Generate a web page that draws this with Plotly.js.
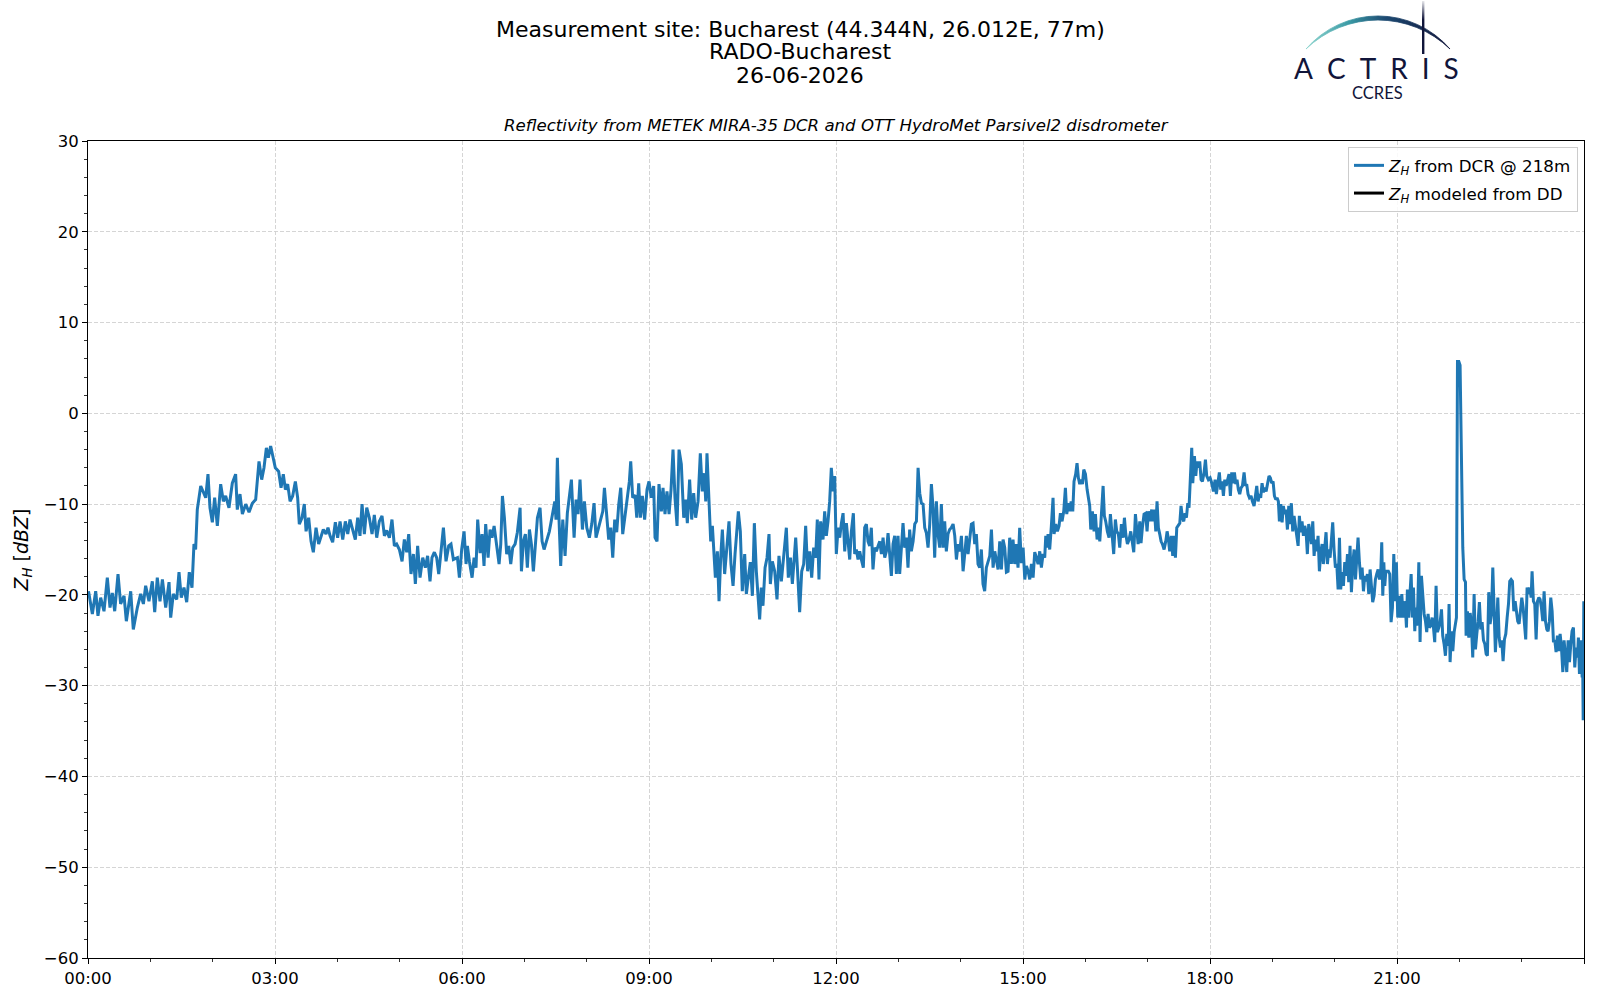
<!DOCTYPE html>
<html>
<head>
<meta charset="utf-8">
<script src="https://cdn.plot.ly/plotly-3.0.1.min.js"></script>
<style>html,body{margin:0;padding:0;background:#fff}#chart{width:1600px;height:1000px}</style>
</head>
<body>
<div id="chart"></div>
<script>
// ---- DATA: [minutes since 00:00, Z_H in dBZ] ----
const seg1 = [[0.5,-19.6],[4.2,-22.1],[7.4,-19.6],[9.6,-22.3],[12.2,-20.3],[15.4,-21.8],[18.6,-18.1],[21.2,-21.4],[23.4,-19.8],[25.7,-21.8],[28.9,-17.7],[31.4,-21.0],[34.7,-20.1],[36.9,-22.9],[41.1,-19.6],[43.6,-23.8],[47.5,-21.4],[50.7,-19.9],[53.3,-21.0],[55.5,-19.0],[58.7,-20.7],[61.9,-18.5],[64.2,-21.9],[66.7,-18.1],[69.3,-20.7],[71.6,-18.3],[74.8,-21.4],[78.0,-18.6],[79.6,-22.5],[82.1,-19.9],[85.4,-20.5],[87.6,-17.5],[89.8,-20.3],[92.4,-19.2],[95.0,-20.8],[97.5,-17.5],[100.1,-19.2],[102.0,-14.4],[103.6,-15.0],[105.2,-10.6],[108.5,-8.0],[111.0,-8.6],[113.3,-9.3],[115.5,-6.7],[117.4,-10.4],[119.7,-12.0],[121.9,-9.3],[124.5,-12.4],[127.7,-7.8],[130.3,-9.7],[132.5,-9.1],[135.7,-10.4],[138.9,-7.7],[142.1,-6.7],[143.7,-10.6],[146.3,-8.9],[148.6,-11.1],[151.8,-10.0],[155.0,-10.9],[158.2,-9.9],[161.4,-9.5],[164.6,-5.3],[167.2,-7.3],[169.4,-6.0],[171.7,-3.8],[173.6,-4.9],[175.8,-3.6]];
const seg2 = [[180.3,-6.0],[183.5,-6.4],[185.8,-8.2],[188.0,-6.7],[190.0,-8.4],[192.2,-7.8],[194.5,-9.7],[197.0,-9.1],[199.6,-7.5],[201.8,-9.3],[203.4,-12.2],[206.0,-11.5],[208.2,-10.0],[209.9,-13.0],[212.4,-11.5],[214.7,-14.1],[216.9,-15.3],[219.5,-12.6],[222.0,-14.4],[224.3,-13.5],[226.5,-12.8],[229.1,-13.3],[231.0,-12.6],[233.0,-13.5],[235.5,-14.2],[238.1,-12.0],[240.3,-13.7],[242.6,-11.9],[245.2,-13.9],[247.7,-11.9],[250.0,-13.3],[252.2,-11.7],[254.8,-12.8],[257.3,-13.9],[259.6,-11.5],[261.8,-13.5],[263.8,-10.0],[266.0,-13.3],[268.3,-10.4],[270.8,-11.5],[273.4,-13.3],[275.6,-11.2],[277.9,-13.7],[280.4,-11.9],[283.0,-11.3],[285.3,-13.5],[287.5,-12.9],[290.1,-13.7],[292.6,-11.7],[294.9,-14.6],[297.1,-14.4],[299.7,-15.0],[302.3,-16.3],[304.5,-13.9],[306.8,-15.3],[308.7,-13.3],[310.9,-17.7],[313.2,-15.5],[315.1,-18.8],[317.3,-14.6],[319.6,-18.1],[322.2,-15.9],[324.7,-17.0],[326.9,-15.7],[329.2,-18.5],[331.1,-15.9],[333.4,-15.3],[335.6,-15.9],[337.6,-17.7],[339.8,-15.2],[342.1,-12.6],[344.6,-16.3],[347.2,-14.6],[349.4,-14.4],[351.7,-16.1]];
const seg3 = [[355.6,-15.9],[357.5,-18.1],[359.7,-15.0],[362.0,-13.0],[363.9,-16.6],[365.2,-14.6],[367.1,-16.3],[369.7,-18.1],[371.6,-15.9],[373.5,-17.0],[375.1,-11.7],[377.4,-15.4],[379.3,-13.3],[381.2,-16.8],[382.8,-12.2],[385.1,-15.9],[387.0,-12.8],[388.9,-13.7],[390.9,-12.4],[393.4,-14.6],[395.7,-16.6],[397.3,-14.4],[398.9,-9.1],[400.8,-11.5],[403.0,-15.5],[405.0,-14.6],[406.9,-16.6],[408.8,-14.8],[411.1,-14.4],[413.3,-13.1],[415.9,-10.4],[417.2,-17.4],[419.1,-14.1],[421.0,-13.3],[422.9,-17.0],[424.9,-12.8],[426.8,-14.4],[428.7,-17.4],[430.6,-13.9],[432.6,-11.5],[435.1,-10.4],[437.1,-14.1],[439.0,-15.0],[441.6,-14.1],[444.1,-13.0],[445.4,-12.2],[447.3,-11.0],[449.3,-9.7],[450.5,-11.7],[451.8,-4.9],[453.1,-10.8],[455.0,-16.8],[457.0,-11.7],[459.2,-15.7],[461.4,-11.0],[463.4,-8.8],[465.3,-7.3],[467.9,-13.7],[469.8,-9.5],[471.7,-11.1],[473.6,-7.3],[475.9,-12.8],[477.8,-9.7],[480.1,-12.6],[482.6,-13.7],[484.9,-12.2],[487.1,-9.9],[489.0,-13.7],[491.3,-12.6],[493.5,-11.9],[495.5,-10.8],[497.1,-8.2],[499.3,-11.3],[501.2,-13.9],[503.2,-12.6],[505.1,-15.9],[507.0,-11.7],[508.9,-13.1],[510.9,-10.0],[512.8,-8.2],[514.7,-13.3],[517.0,-11.3],[519.2,-9.7],[521.1,-7.5],[522.4,-5.3],[524.3,-9.3],[526.6,-9.0],[528.2,-11.5],[530.1,-7.7]];
const seg4 = [[531.7,-11.5],[533.6,-9.1],[535.8,-11.7],[538.1,-8.4],[540.0,-7.5],[542.2,-9.3],[544.5,-8.0],[545.8,-13.7],[547.7,-14.1],[549.6,-7.8],[551.9,-10.8],[553.5,-8.2],[555.4,-11.1],[557.3,-8.6],[559.3,-11.1],[561.2,-8.4],[563.1,-4.0],[565.0,-9.3],[567.0,-12.4],[568.9,-4.0],[571.1,-5.6],[573.4,-11.5],[575.3,-9.5],[576.9,-12.1],[579.1,-7.3],[581.1,-11.7],[583.0,-8.8],[584.9,-11.5],[587.2,-9.7],[589.4,-4.4],[591.3,-8.6],[593.3,-6.6],[594.6,-9.7],[595.8,-4.4],[597.8,-11.1],[599.4,-14.1],[601.0,-12.4],[602.6,-15.4],[603.9,-18.1],[605.8,-15.2],[607.4,-20.7],[609.0,-15.9],[610.6,-12.8],[612.8,-17.7],[615.1,-14.8],[617.0,-11.9],[618.9,-16.6],[620.9,-19.0],[622.8,-15.5],[624.7,-12.8],[626.0,-10.8],[627.9,-13.0],[629.8,-19.6],[632.1,-15.5],[633.7,-19.9],[635.6,-18.1],[637.5,-16.4],[639.5,-20.1],[641.4,-12.1],[643.3,-17.4],[644.9,-20.3],[646.5,-22.7],[648.1,-19.2],[649.7,-21.2],[651.7,-17.0],[653.6,-15.9],[655.5,-13.3],[656.8,-18.8],[658.7,-16.3],[661.0,-17.4],[663.2,-20.5],[665.1,-15.7],[667.4,-18.5],[669.6,-15.7],[672.2,-12.6],[674.1,-18.1],[676.1,-15.9],[678.0,-18.8],[679.9,-16.3],[681.2,-13.7],[683.1,-17.6],[685.0,-21.9],[687.0,-17.4],[688.9,-16.6],[690.8,-12.4],[692.7,-17.4],[694.7,-15.2],[696.6,-18.1],[698.5,-14.8],[700.4,-15.9],[702.0,-11.7],[703.6,-18.3],[705.2,-11.9],[706.9,-13.7]];
const seg5 = [[707.5,-13.9],[709.1,-10.8],[710.7,-13.5],[712.3,-11.9],[713.9,-9.7],[715.5,-6.0],[717.1,-8.6],[718.7,-6.9],[720.3,-15.5],[722.0,-12.6],[723.6,-13.7],[725.2,-12.1],[726.8,-11.0],[728.4,-15.2],[730.0,-12.1],[731.6,-14.1],[733.2,-16.1],[734.8,-13.0],[736.7,-11.0],[738.0,-15.5],[739.6,-15.0],[741.2,-16.1],[742.8,-15.2],[744.4,-16.1],[746.3,-17.0],[747.6,-12.6],[749.2,-12.2],[750.8,-14.1],[752.4,-14.6],[754.0,-12.6],[755.6,-17.2],[757.2,-14.8],[758.9,-15.2],[760.5,-14.6],[762.1,-14.1],[763.7,-15.5],[765.3,-13.7],[766.9,-15.9],[768.5,-15.2],[770.1,-13.2],[771.7,-15.5],[773.3,-17.9],[774.9,-14.4],[776.5,-13.5],[778.1,-17.7],[779.7,-13.5],[781.3,-17.7],[782.9,-14.8],[784.5,-12.1],[786.1,-14.8],[787.7,-13.7],[789.3,-17.0],[790.9,-12.8],[792.5,-15.2],[794.2,-14.1],[795.8,-12.2],[797.4,-11.9],[799.0,-6.0],[800.6,-8.8],[802.2,-9.9],[803.8,-10.0],[805.4,-12.6],[807.0,-13.2],[808.6,-14.8],[810.2,-12.2],[811.8,-7.8],[813.4,-10.4],[815.0,-15.9],[816.6,-9.7],[818.2,-13.3],[819.8,-14.8],[821.4,-10.0],[823.0,-14.8],[824.6,-11.9],[826.2,-15.2],[827.8,-13.3],[829.4,-12.8],[831.0,-12.6],[832.7,-12.2],[834.3,-13.5],[835.9,-16.1],[837.5,-14.4],[839.1,-15.2],[840.7,-13.5],[842.3,-17.4],[843.9,-15.5],[845.5,-13.5],[847.1,-15.5],[848.7,-14.1],[850.3,-12.2],[851.9,-12.1],[853.5,-14.4],[855.1,-13.3],[856.7,-16.6],[858.3,-17.0],[859.9,-15.0],[861.5,-18.8],[863.1,-19.6],[864.7,-17.0],[866.3,-16.3],[868.0,-15.7],[869.6,-12.8],[871.2,-17.0],[872.8,-15.2],[874.4,-16.3],[876.0,-17.2],[877.6,-14.1],[879.2,-17.2],[880.8,-13.9],[882.4,-14.8],[884.0,-17.5]];
const seg6 = [[885.6,-17.4],[887.2,-13.7],[888.8,-16.6],[890.4,-13.9],[892.0,-16.6],[893.6,-14.4],[895.2,-17.0],[896.8,-12.6],[898.4,-16.5],[900.1,-14.8],[901.7,-18.3],[903.3,-16.8],[904.9,-17.4],[906.5,-18.3],[908.1,-16.6],[909.7,-18.1],[911.3,-15.3],[912.9,-15.9],[914.5,-16.6],[916.1,-15.2],[917.7,-17.0],[919.3,-15.5],[920.9,-15.9],[921.9,-13.5],[923.2,-14.8],[924.1,-13.3],[925.7,-15.0],[927.3,-12.4],[928.9,-9.3],[929.9,-13.3],[931.5,-12.2],[933.1,-13.0],[934.7,-12.4],[936.0,-11.0],[937.6,-11.9],[939.2,-10.8],[940.8,-8.2],[942.1,-11.1],[943.7,-9.9],[945.0,-10.8],[946.3,-9.7],[947.9,-10.8],[949.1,-7.5],[950.7,-6.7],[952.0,-5.5],[953.3,-7.1],[954.6,-7.8],[955.9,-7.3],[957.2,-7.8],[958.5,-6.2],[960.1,-6.7],[961.7,-8.4],[963.0,-9.7],[964.2,-10.2],[965.2,-12.8],[966.8,-10.8],[968.4,-13.0],[969.7,-11.1],[971.3,-13.9],[972.6,-12.6],[973.9,-14.1],[975.5,-10.8],[977.1,-8.0],[978.3,-11.3],[979.6,-11.9],[981.2,-13.0],[982.8,-13.7],[984.1,-11.1],[985.7,-13.0],[987.3,-15.5],[988.9,-11.7],[990.2,-13.0],[991.8,-13.3],[993.1,-14.8],[994.7,-12.2],[996.3,-13.7],[997.6,-11.5],[998.9,-13.3],[1000.5,-14.4],[1002.1,-13.9],[1003.7,-13.0],[1005.0,-14.3],[1006.6,-15.3],[1008.2,-11.1],[1009.5,-13.0],[1010.8,-14.4],[1012.4,-11.9],[1013.6,-14.3],[1014.9,-12.6],[1016.5,-11.1],[1018.1,-11.0],[1019.4,-13.0],[1020.7,-10.8],[1022.3,-11.9],[1023.9,-10.6],[1025.2,-11.9],[1026.5,-10.6],[1027.8,-13.0],[1029.0,-9.7],[1030.3,-12.6],[1031.6,-13.3],[1032.9,-14.1],[1034.2,-14.4],[1035.8,-15.0],[1037.4,-14.1],[1038.7,-13.0],[1040.0,-13.9],[1041.2,-15.2],[1042.8,-13.5],[1044.1,-15.7],[1045.4,-13.5],[1046.7,-15.9],[1048.0,-12.6],[1049.3,-12.4],[1050.9,-12.1],[1052.1,-10.2],[1053.4,-11.5],[1054.7,-11.9],[1056.0,-11.0],[1057.3,-11.5],[1058.6,-9.9],[1059.8,-10.4],[1061.1,-7.7],[1062.4,-3.8],[1063.4,-7.7]];
const seg7 = [[1065.0,-4.7],[1066.3,-6.9],[1067.5,-5.3],[1068.8,-6.0],[1070.1,-5.3],[1071.4,-7.3],[1072.7,-7.5],[1074.3,-6.5],[1075.6,-5.1],[1076.8,-6.9],[1078.4,-7.3],[1080.1,-7.1],[1081.7,-7.7],[1083.3,-8.6],[1084.9,-7.3],[1086.1,-8.9],[1087.4,-7.7],[1089.0,-6.5],[1090.3,-8.4],[1091.6,-7.5],[1092.9,-9.1],[1094.2,-7.3],[1095.5,-8.0],[1096.7,-7.3],[1098.3,-6.7],[1099.6,-9.1],[1100.9,-6.5],[1102.2,-7.7],[1103.5,-6.5],[1104.8,-7.8],[1106.0,-7.3],[1107.3,-8.4],[1108.6,-8.9],[1109.9,-8.2],[1111.2,-8.0],[1112.8,-6.5],[1114.1,-8.0],[1115.3,-7.8],[1116.6,-8.9],[1117.9,-9.3],[1119.5,-9.1],[1120.8,-9.7],[1122.4,-10.2],[1123.7,-9.1],[1125.0,-8.0],[1126.3,-9.7],[1127.5,-8.9],[1128.8,-9.3],[1130.1,-7.7],[1131.4,-8.7],[1132.7,-8.2],[1134.0,-8.6],[1135.2,-8.0],[1136.8,-6.9],[1138.1,-7.1],[1139.4,-7.7],[1140.7,-7.5],[1142.0,-9.1],[1143.3,-9.5],[1144.5,-9.3],[1145.8,-9.7],[1146.8,-11.9],[1148.1,-10.0],[1149.4,-12.0],[1150.6,-10.2],[1151.9,-11.1],[1153.2,-10.6],[1154.5,-12.8],[1155.8,-10.2],[1157.1,-12.2],[1158.3,-9.9],[1159.6,-13.0],[1160.9,-11.3],[1162.2,-12.4],[1163.5,-13.1],[1164.8,-14.6],[1166.0,-11.3],[1167.3,-13.1],[1168.6,-11.9],[1169.9,-13.5],[1171.2,-12.4],[1172.5,-13.1],[1173.7,-15.5],[1175.0,-12.2],[1176.3,-13.1],[1177.6,-14.4],[1178.9,-11.9],[1180.2,-15.7],[1181.4,-13.9],[1182.7,-15.2],[1184.0,-13.5],[1185.3,-17.4],[1186.6,-15.3],[1187.9,-14.4],[1189.1,-16.6],[1190.4,-14.6],[1191.7,-13.1],[1193.0,-16.6],[1194.3,-15.0],[1195.6,-15.9],[1196.9,-13.9],[1198.1,-12.0],[1199.4,-15.0],[1200.7,-17.0],[1202.0,-16.6],[1203.3,-19.4],[1204.6,-13.7],[1205.8,-19.4],[1207.1,-17.5],[1208.4,-19.0],[1209.7,-16.4],[1211.0,-17.9],[1212.3,-15.5],[1213.5,-18.6],[1214.8,-14.6],[1216.1,-19.7],[1217.4,-16.6],[1218.7,-15.0],[1220.0,-18.3],[1221.2,-15.3],[1222.5,-13.7],[1223.8,-16.4],[1225.1,-18.3],[1226.4,-17.0],[1227.7,-19.6],[1228.9,-17.9],[1230.2,-18.5],[1231.5,-17.7],[1232.8,-19.9],[1234.1,-17.2],[1235.4,-19.7],[1236.6,-20.8],[1237.9,-20.1],[1239.2,-18.3],[1240.5,-17.7],[1241.8,-17.2],[1243.1,-18.3]];
const seg8 = [[1244.4,-17.4],[1245.3,-14.2],[1246.3,-20.1],[1247.3,-16.4],[1248.2,-19.0],[1249.2,-17.4],[1250.5,-17.4],[1251.7,-17.4],[1253.0,-17.7],[1254.3,-23.0],[1255.6,-21.4],[1256.9,-15.5],[1258.2,-20.7],[1259.4,-16.4],[1260.7,-22.5],[1262.0,-20.1],[1263.3,-22.5],[1264.6,-19.9],[1265.9,-22.5],[1266.8,-20.7],[1268.1,-21.4],[1269.1,-23.6],[1270.0,-19.4],[1271.3,-22.5],[1272.6,-19.6],[1273.6,-17.7],[1274.8,-22.5],[1275.8,-19.2],[1277.1,-24.0],[1278.1,-21.4],[1279.0,-23.4],[1280.0,-21.0],[1281.0,-16.4],[1282.2,-25.2],[1283.5,-17.9],[1284.8,-20.3],[1286.1,-22.1],[1287.4,-22.9],[1288.6,-24.1],[1289.9,-22.1],[1291.2,-23.6],[1292.5,-23.4],[1293.8,-22.5],[1295.1,-23.6],[1296.3,-25.2],[1297.6,-19.0],[1298.9,-24.1],[1300.2,-23.6],[1301.5,-23.0],[1302.8,-21.6],[1304.0,-24.5],[1305.3,-25.4],[1306.6,-26.7],[1307.9,-24.3],[1309.2,-25.6],[1310.1,-21.0],[1311.1,-27.4],[1312.4,-24.0],[1313.7,-26.2],[1315.0,-24.1],[1316.2,-22.9],[1317.2,-22.5],[1318.2,5.7],[1319.5,5.7],[1320.7,5.3],[1322.0,-3.1],[1323.3,-14.8],[1324.6,-18.3],[1325.9,-18.6],[1326.5,-24.5],[1327.8,-21.8],[1329.1,-24.7],[1330.4,-22.0],[1331.6,-23.2],[1332.9,-26.9],[1334.2,-19.9],[1335.5,-26.0],[1336.8,-24.3],[1338.1,-22.9],[1339.3,-20.8],[1340.6,-23.8],[1341.9,-23.0],[1343.2,-25.0],[1344.5,-25.4],[1345.8,-26.5],[1347.0,-26.7],[1348.3,-19.7],[1349.6,-23.2],[1350.9,-22.1],[1352.2,-17.0],[1353.5,-23.2],[1354.7,-26.3],[1356.0,-23.2],[1357.0,-20.3],[1358.3,-24.7],[1359.6,-25.8],[1360.8,-25.0],[1362.1,-27.3],[1363.4,-24.9],[1364.7,-24.3],[1366.0,-22.5],[1367.3,-21.0],[1368.5,-18.5],[1369.8,-18.3],[1371.1,-18.5],[1372.4,-21.8],[1373.7,-20.7],[1375.0,-22.0],[1376.2,-22.9],[1377.5,-23.2],[1378.8,-21.4],[1380.1,-20.3],[1381.4,-21.4],[1382.7,-22.9],[1383.9,-24.9],[1385.2,-19.2],[1386.5,-19.9],[1387.8,-19.2],[1389.1,-20.3],[1390.0,-17.4],[1391.3,-20.7],[1392.6,-21.0],[1393.9,-24.9],[1395.2,-20.7],[1396.5,-20.3],[1397.7,-20.5],[1399.0,-21.4],[1400.3,-22.9],[1401.6,-19.6],[1402.9,-22.9],[1404.2,-23.8],[1405.4,-24.0],[1406.7,-22.9],[1408.0,-20.3],[1409.3,-21.8],[1410.6,-25.2],[1411.9,-25.0],[1413.1,-26.3],[1414.4,-24.5],[1415.7,-26.2],[1417.0,-24.3],[1418.3,-25.8],[1419.6,-28.5],[1420.8,-25.0],[1422.1,-26.7],[1423.4,-28.5],[1424.7,-25.0],[1426.0,-27.4],[1427.3,-25.4],[1428.5,-24.0],[1429.8,-23.6],[1431.1,-28.0],[1432.4,-25.8],[1433.7,-26.9],[1434.6,-24.7],[1435.6,-28.7],[1436.9,-25.0],[1438.2,-29.1],[1438.7,-27.3],[1439.2,-33.8],[1439.8,-20.7]];
const zhModeledDD = [];   // no modeled-from-DD values are visible in the reference
const titleLines = ['Measurement site: Bucharest (44.344N, 26.012E, 77m)', 'RADO-Bucharest', '26-06-2026'];
const dayString = '2026-06-26';

// ---- helpers ----
function pad(n){ return (n < 10 ? '0' : '') + n; }
function ts(m){
  let s = Math.round(m * 60);
  const h = Math.floor(s / 3600); s -= h * 3600;
  const mi = Math.floor(s / 60); s -= mi * 60;
  return dayString + ' ' + pad(h) + ':' + pad(mi) + ':' + pad(s);
}

const dcr = [].concat(seg1, seg2, seg3, seg4, seg5, seg6, seg7, seg8);

const traceDCR = {
  type: 'scatter', mode: 'lines',
  x: dcr.map(p => ts(p[0])), y: dcr.map(p => p[1]),
  name: '<i>Z</i><sub><i>H</i></sub> from DCR @ 218m',
  legendgroup: 'dcr',
  line: {color: '#1f77b4', width: 3}
};
// empty series: a single null point keeps its legend entry without drawing anything
const traceDD = {
  type: 'scatter', mode: 'lines',
  x: zhModeledDD.length ? zhModeledDD.map(p => ts(p[0])) : [null],
  y: zhModeledDD.length ? zhModeledDD.map(p => p[1]) : [null],
  name: '<i>Z</i><sub><i>H</i></sub> modeled from DD',
  legendgroup: 'dd',
  line: {color: '#000000', width: 3}
};

// ---- logo arc (decoration only) ----
const logoSvg = '<svg xmlns="http://www.w3.org/2000/svg" width="160" height="60" viewBox="0 0 160 60">' +
  '<defs><linearGradient id="g" x1="0" y1="0" x2="1" y2="0">' +
  '<stop offset="0" stop-color="#8fd6cf"/><stop offset="0.3" stop-color="#3a9aa5"/>' +
  '<stop offset="0.55" stop-color="#1d4a72"/><stop offset="1" stop-color="#10153a"/></linearGradient>' +
  '<linearGradient id="v" x1="0" y1="0" x2="0" y2="1">' +
  '<stop offset="0" stop-color="#10153a" stop-opacity="0.1"/><stop offset="0.35" stop-color="#10153a" stop-opacity="1"/></linearGradient></defs>' +
  '<path d="M6,49 A95,95 0 0,1 150,49 A104,104 0 0,0 6,49 Z" fill="url(#g)" stroke="url(#g)" stroke-width="0.8"/>' +
  '<rect x="122" y="1" width="2.4" height="53" fill="url(#v)"/>' +
  '</svg>';
const logoUri = 'data:image/svg+xml;charset=utf-8,' + encodeURIComponent(logoSvg);

// pixel -> paper helpers (plot area: x 88..1584, y 141..958)
const PL = 88, PW = 1496, PT = 141, PH = 817;
const px = x => (x - PL) / PW;
const py = y => 1 - (y - PT) / PH;

const titleY = [29.2, 51.8, 75.2];
const annotations = titleLines.map((t, i) => ({
  text: t, xref: 'paper', yref: 'paper', x: px(800), y: py(titleY[i]),
  xanchor: 'center', yanchor: 'middle', showarrow: false,
  font: {family: 'DejaVu Sans', size: 22, color: '#000'}
}));
annotations.push(
  {text: '<i>Reflectivity from METEK MIRA-35 DCR and OTT HydroMet Parsivel2 disdrometer</i>',
   xref: 'paper', yref: 'paper', x: 0.5, y: py(126), xanchor: 'center', yanchor: 'middle',
   showarrow: false, font: {size: 16.6, color: '#000'}},
  {text: 'A\u2002C\u2002T\u2002R\u2002I\u2002S',
   xref: 'paper', yref: 'paper', x: px(1376), y: py(67.5), xanchor: 'center', yanchor: 'middle',
   showarrow: false, font: {family: 'Lato', size: 28, color: '#11153a'}},
  {text: 'CCRES',
   xref: 'paper', yref: 'paper', x: px(1377), y: py(93.5), xanchor: 'center', yanchor: 'middle',
   showarrow: false, font: {family: 'Lato', size: 16.5, color: '#11153a'}}
);

const layout = {
  width: 1600, height: 1000,
  margin: {l: PL, r: 1600 - PL - PW, t: PT, b: 1000 - PT - PH, pad: 0},
  paper_bgcolor: '#ffffff', plot_bgcolor: '#ffffff',
  font: {family: 'DejaVu Sans', size: 16.5, color: '#000000'},
  showlegend: true,
  xaxis: {
    type: 'date',
    range: [ts(0), ts(1439.99)],
    tickmode: 'linear', tick0: ts(0), dtick: 3 * 3600000,
    tickformat: '%H:%M',
    ticks: 'outside', ticklen: 5, tickwidth: 1, tickcolor: '#000',
    showline: true, linecolor: '#000', linewidth: 1, mirror: true,
    showgrid: true, gridcolor: '#d0d0d0', gridwidth: 0.9, griddash: '4px,2px',
    zeroline: false,
    tickfont: {size: 16.5},
    minor: {ticks: 'outside', ticklen: 3, tickwidth: 0.8, tickcolor: '#000', tick0: ts(0), dtick: 3600000, showgrid: false}
  },
  yaxis: {
    range: [-60, 30],
    tickmode: 'linear', tick0: -60, dtick: 10,
    ticks: 'outside', ticklen: 5, tickwidth: 1, tickcolor: '#000',
    showline: true, linecolor: '#000', linewidth: 1, mirror: true,
    showgrid: true, gridcolor: '#d0d0d0', gridwidth: 0.9, griddash: '4px,2px',
    zeroline: false,
    tickfont: {size: 16.5},
    minor: {ticks: 'outside', ticklen: 3, tickwidth: 0.8, tickcolor: '#000', tick0: -60, dtick: 2, showgrid: false},
    title: {text: '<i>Z</i><sub><i>H</i></sub> [<i>dBZ</i>]', font: {size: 19}, standoff: 10}
  },
  legend: {
    x: px(1578), xanchor: 'right', y: py(147), yanchor: 'top',
    bgcolor: 'rgba(255,255,255,0.85)', bordercolor: '#cccccc', borderwidth: 1,
    font: {size: 16.7, color: '#000'},
    traceorder: 'grouped', tracegroupgap: 3
  },
  annotations: annotations,
  images: [
    {source: logoUri, xref: 'paper', yref: 'paper', x: px(1300), y: py(0),
     sizex: 160 / PW, sizey: 60 / PH, xanchor: 'left', yanchor: 'top', sizing: 'stretch', layer: 'above'}
  ]
};

Plotly.newPlot('chart', [traceDCR, traceDD], layout, {staticPlot: true, displayModeBar: false});
</script>
</body>
</html>
